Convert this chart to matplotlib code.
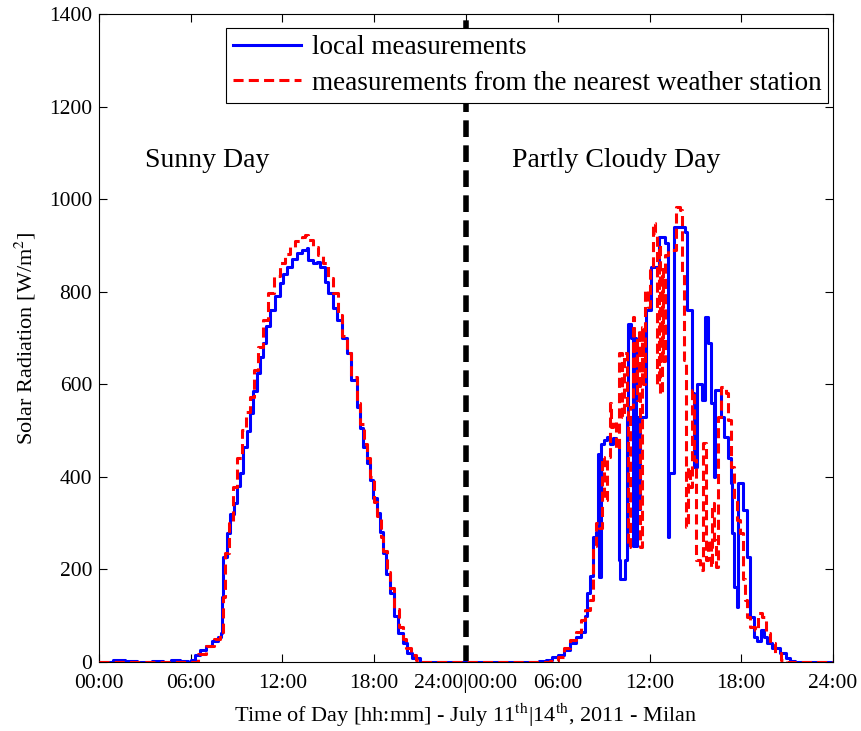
import matplotlib
matplotlib.use('Agg')
import matplotlib.pyplot as plt
import numpy as np

plt.rcParams['font.family'] = ['Liberation Serif', 'DejaVu Serif']
plt.rcParams['mathtext.fontset'] = 'stix'

# ---- day 1 (July 11th, sunny) : hour, W/m2 ----
sunny_local_t = [0, 0.9, 1.7, 2.5, 3.5, 4.2, 4.7, 5.3, 5.8, 6.0, 6.3, 6.6, 7.0, 7.4, 7.8, 8.0, 8.05, 8.1,
                 8.35, 8.6, 8.8, 9.0, 9.22, 9.44, 9.65, 9.88, 10.1, 10.31, 10.55, 10.75, 10.95, 11.18,
                 11.5, 11.84, 12.05, 12.27, 12.6, 12.93, 13.25, 13.58, 13.67, 14.0, 14.24, 14.45, 14.66,
                 14.8, 15.0, 15.3, 15.55, 15.9, 16.2, 16.5, 16.85, 17.05, 17.29, 17.5, 17.72, 17.95,
                 18.16, 18.4, 18.6, 18.8, 19.03, 19.3, 19.58, 19.85, 20.12, 20.5, 21.0, 24]
sunny_local_v = [0, 5, 2, 0, 3, 0, 4, 2, 0, 5, 15, 25, 35, 45, 55, 63, 140, 227,
                 279, 320, 343, 380, 408, 465, 500, 537, 585, 624, 660, 689, 725, 760,
                 790, 818, 838, 853, 870, 883, 890, 894, 868, 862, 864, 853, 853,
                 820, 797, 765, 739, 700, 667, 610, 551, 505, 465, 430, 393, 355,
                 322, 280, 235, 190, 149, 100, 63, 40, 19, 8, 0, 0]

sunny_station_t = [0, 6.0, 6.5, 7.0, 7.5, 7.9, 8.1, 8.24, 8.5, 8.79, 9.05, 9.33, 9.6, 9.88, 10.15,
                   10.42, 10.75, 11.07, 11.45, 11.84, 12.15, 12.49, 12.85, 13.26, 13.5, 13.7, 14.0,
                   14.3, 14.67, 15.0, 15.3, 15.6, 15.9, 16.2, 16.5, 16.85, 17.1, 17.3, 17.5, 17.72,
                   18.0, 18.2, 18.45, 18.6, 18.85, 19.05, 19.3, 19.6, 19.85, 20.1, 20.4, 20.7, 21.0, 24]
sunny_station_v = [0, 0, 18, 35, 50, 60, 140, 235, 300, 378, 440, 501, 540, 572, 630,
                   680, 740, 797, 835, 862, 882, 897, 910, 918, 922, 912, 897,
                   880, 862, 830, 797, 750, 705, 667, 615, 560, 515, 470, 440, 400,
                   345, 315, 270, 240, 195, 160, 115, 75, 50, 30, 15, 5, 0, 0]

# ---- day 2 (July 14th, partly cloudy) ----
cloudy_local_t = [0, 4.8, 5.2, 5.6, 6.0, 6.4, 6.8, 7.2, 7.5, 7.8, 7.9, 8.1, 8.3, 8.5, 8.6, 8.7, 8.8,
                  9.0, 9.2, 9.4, 9.6, 9.8, 10.0, 10.1, 10.4, 10.5, 10.6, 10.8, 10.9, 11.0, 11.1, 11.2,
                  11.3, 11.4, 11.6, 11.8, 12.1, 12.5, 12.6, 13.0, 13.2, 13.3, 13.6, 14.3, 14.45, 14.7,
                  14.8, 14.9, 15.1, 15.4, 15.6, 15.8, 16.0, 16.2, 16.3, 16.6, 16.7, 16.9, 17.1, 17.3,
                  17.4, 17.5, 17.7, 17.8, 18.1, 18.4, 18.6, 18.8, 19.0, 19.3, 19.5, 19.7, 20.0, 20.5,
                  20.9, 21.2, 21.5, 24]
cloudy_local_v = [0, 2, 5, 10, 15, 25, 40, 55, 65, 100, 150, 185, 270, 280, 450, 184, 470,
                  480, 486, 470, 484, 478, 220, 180, 220, 530, 730, 700, 250, 700, 250, 530,
                  330, 530, 530, 760, 853, 853, 918, 905, 270, 408, 940, 930, 760, 760,
                  581, 421, 600, 566, 745, 689, 560, 400, 587, 587, 530, 486, 440, 387,
                  279, 162, 119, 387, 328, 227, 97, 55, 45, 69, 55, 41, 30, 19,
                  8, 2, 0, 0]

cloudy_station_t = [0, 5.0, 5.5, 6.0, 6.4, 6.8, 7.2, 7.5, 7.8, 8.1, 8.3, 8.5, 8.7, 8.9, 9.0, 9.2,
                    9.4, 9.5, 9.6, 9.8, 10.0, 10.2, 10.35, 10.5, 10.6, 10.75, 10.9, 11.0, 11.1, 11.2,
                    11.3, 11.4, 11.5, 11.6, 11.7, 11.9, 12.0, 12.2, 12.35, 12.5, 12.6, 12.7, 12.8,
                    12.9, 13.0, 13.2, 13.5, 13.7, 14.0, 14.15, 14.25, 14.4, 14.5, 14.65, 14.8, 14.9,
                    15.05, 15.3, 15.5, 15.7, 15.85, 16.0, 16.1, 16.2, 16.35, 16.5, 16.7, 17.0, 17.1,
                    17.3, 17.5, 17.7, 17.9, 18.1, 18.25, 18.4, 18.6, 18.9, 19.1, 19.35, 19.6, 19.9,
                    20.2, 20.6, 21.0, 24]
cloudy_station_v = [0, 0, 3, 10, 30, 47, 65, 90, 112, 134, 250, 300, 290, 443, 350, 443,
                    560, 508, 520, 460, 667, 530, 667, 551, 248, 551, 745, 600, 700, 566,
                    720, 248, 724, 600, 803, 767, 847, 948, 926, 600, 900, 580, 850,
                    650, 880, 890, 890, 983, 976, 840, 652, 292, 421, 378, 587, 436,
                    220, 199, 473, 220, 263, 205, 343, 263, 205, 530, 594, 581, 523,
                    421, 350, 307, 279, 180, 134, 97, 76, 69, 106, 97, 63, 40,
                    19, 5, 0, 0]

tick_pos = [0, 6, 12, 18, 24, 30, 36, 42, 48]
tick_labels = ['00:00', '06:00', '12:00', '18:00', '24:00|00:00', '06:00', '12:00', '18:00', '24:00']

local_t = np.concatenate([sunny_local_t, np.array(cloudy_local_t) + 24])
local_v = np.concatenate([sunny_local_v, cloudy_local_v])
station_t = np.concatenate([sunny_station_t, np.array(cloudy_station_t) + 24])
station_v = np.concatenate([sunny_station_v, cloudy_station_v])

fig = plt.figure(figsize=(8.62, 7.31), dpi=100)
ax = fig.add_axes([0.1148, 0.0944, 0.8516, 0.8864])

ax.axvline(24, color='black', lw=4, dashes=(3, 1.5), zorder=1)
ax.plot(local_t, local_v, color='blue', lw=2.2, drawstyle='steps-post',
        label='local measurements', zorder=2)
ax.plot(station_t, station_v, color='red', lw=2.2, drawstyle='steps-post',
        dashes=(3.3, 1.7), label='measurements from the nearest weather station', zorder=3)

ax.set_xlim(0, 48)
ax.set_ylim(0, 1400)
ax.set_xticks(tick_pos)
ax.set_xticklabels(tick_labels)
ax.set_yticks(np.arange(0, 1401, 200))
ax.tick_params(direction='in', top=True, right=True, length=6, width=0.8, labelsize=15.5)
ax.tick_params(axis='x', pad=9)
ax.tick_params(axis='y', pad=5)

ax.set_xlabel('Time of Day [hh:mm] - July 11$^{\\mathrm{th}}$|14$^{\\mathrm{th}}$, 2011 - Milan',
              fontsize=16, labelpad=6)
ax.set_ylabel('Solar Radiation [W/m$^{2}$]', fontsize=16, labelpad=8)

ax.text(3.0, 1084, 'Sunny Day', fontsize=20, va='center', ha='left')
ax.text(27.0, 1084, 'Partly Cloudy Day', fontsize=20, va='center', ha='left')

leg = ax.legend(loc='upper right', bbox_to_anchor=(0.9932, 0.978), borderaxespad=0,
                fontsize=19.5, fancybox=False, framealpha=1, edgecolor='black',
                handlelength=2.5, borderpad=0.25, labelspacing=0.4, handletextpad=0.4)
leg.get_frame().set_linewidth(0.8)
leg.set_zorder(5)

plt.savefig('out.png', dpi=100)
